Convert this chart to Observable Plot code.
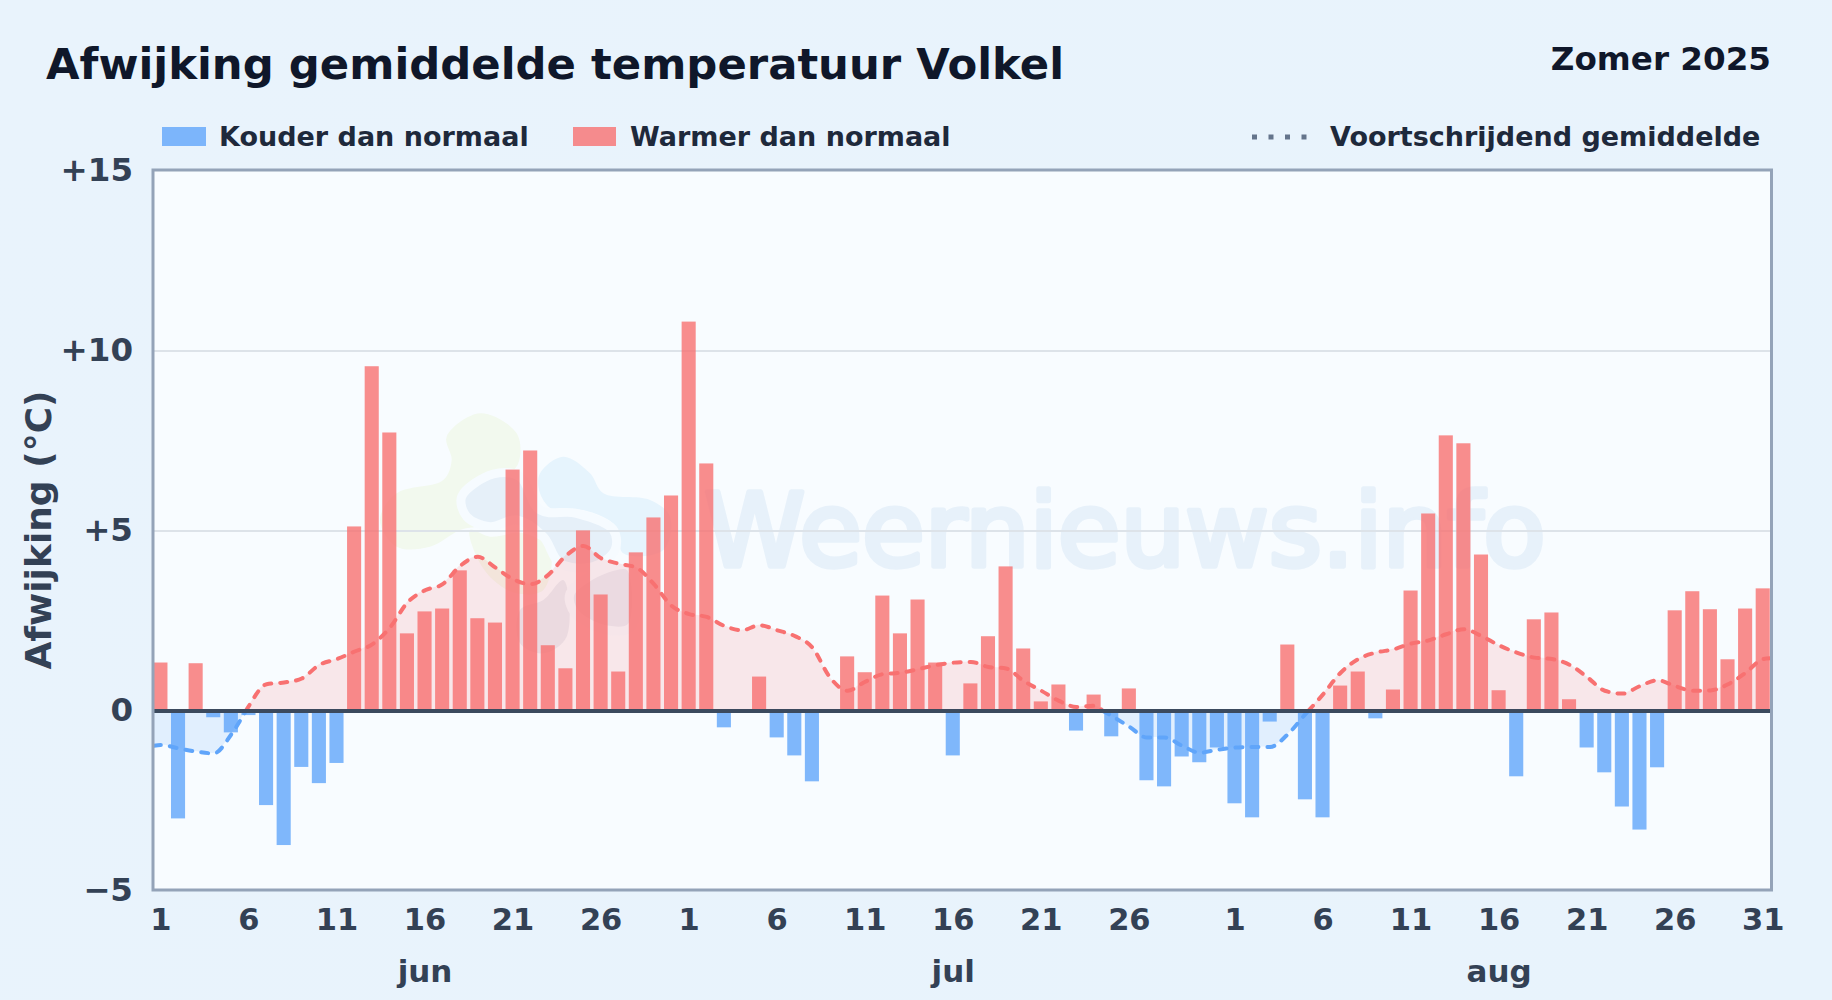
<!DOCTYPE html>
<html lang="nl">
<head>
<meta charset="utf-8">
<title>Afwijking gemiddelde temperatuur Volkel</title>
<script src="https://cdn.jsdelivr.net/npm/d3@7"></script>
<script src="https://cdn.jsdelivr.net/npm/@observablehq/plot@0.6"></script>
<style>
  html, body { margin: 0; padding: 0; }
  body {
    width: 1832px; height: 1000px; overflow: hidden; position: relative;
    background: linear-gradient(120deg, #e9f3fc 0%, #e8f3fc 100%);
    font-family: "DejaVu Sans", sans-serif; font-weight: 700;
  }
  .abs { position: absolute; white-space: nowrap; }
  #title { left: 46px; top: 38px; font-size: 43.35px; line-height: 52px; color: #0f172a; }
  #period { right: 61px; top: 39px; font-size: 32.6px; line-height: 40px; color: #0f172a; }
  .leg { font-size: 27px; line-height: 32px; top: 121px; color: #1e293b; }
  .swatch { top: 127px; height: 19px; }
  #chart { position: absolute; left: 0; top: 150px; }
  #chart svg { display: block; background: transparent; }
</style>
</head>
<body>
<div class="abs" id="title">Afwijking gemiddelde temperatuur Volkel</div>
<div class="abs" id="period">Zomer 2025</div>
<div class="abs swatch" style="left:162px;width:44px;background:rgba(96,165,250,.8)"></div>
<div class="abs leg" style="left:219px">Kouder dan normaal</div>
<div class="abs swatch" style="left:573px;width:43px;background:rgba(248,113,113,.8)"></div>
<div class="abs leg" style="left:630px">Warmer dan normaal</div>
<svg class="abs" style="left:1250px;top:130px" width="60" height="14"><line x1="2" x2="60" y1="7" y2="7" stroke="#64748b" stroke-width="5" stroke-dasharray="5 11.5"/></svg>
<div class="abs leg" style="left:1330px">Voortschrijdend gemiddelde</div>
<div id="chart"></div>
<script>
// Daily deviation from normal (°C), 1 Jun – 31 Aug 2025
const juneDeviation = [1.33,-3.0,1.31,-0.19,-0.61,-0.13,-2.63,-3.74,-1.57,-2.02,-1.46,5.11,9.56,7.72,2.14,2.75,2.83,3.89,2.56,2.44,6.69,7.22,1.81,1.17,5.0,3.22,1.08,4.39,5.36,5.97];
const julyDeviation = [10.8,6.86,-0.47,0,0.94,-0.75,-1.25,-1.97,0,1.5,1.06,3.19,2.14,3.08,1.33,-1.25,0.75,2.06,4.0,1.72,0.25,0.72,-0.56,0.44,-0.72,0.61,-1.94,-2.11,-1.28,-1.44,-1.03];
const augustDeviation = [-2.58,-2.97,-0.31,1.83,-2.47,-2.97,0.69,1.08,-0.22,0.58,3.33,5.47,7.64,7.42,4.33,0.56,-1.83,2.53,2.72,0.31,-1.03,-1.72,-2.67,-3.31,-1.58,2.78,3.31,2.81,1.42,2.83,3.39];
// Moving average, same days
const juneAverage = [-0.95,-1.04,-1.13,-1.18,-0.65,0.14,0.74,0.79,0.90,1.28,1.44,1.65,1.85,2.31,3.01,3.35,3.52,4.03,4.28,3.98,3.66,3.52,3.78,4.31,4.58,4.24,4.09,3.98,3.52,2.92];
const julyAverage = [2.69,2.61,2.36,2.24,2.38,2.24,2.08,1.76,0.93,0.56,0.81,1.02,1.06,1.16,1.27,1.34,1.36,1.22,1.18,0.83,0.56,0.28,0.11,0.14,-0.14,-0.44,-0.74,-0.74,-0.97,-1.16,-1.08];
const augustAverage = [-1.02,-1.0,-1.0,-0.65,-0.09,0.46,1.06,1.44,1.62,1.71,1.87,1.96,2.13,2.27,2.08,1.82,1.62,1.48,1.44,1.28,0.94,0.56,0.48,0.69,0.85,0.69,0.56,0.57,0.74,1.06,1.44];
const averageStart = -0.97, averageEnd = 1.46;
const yTicks = [-5, 0, 5, 10, 15];
const dayTickDays = [0,5,10,15,20,25,30,35,40,45,50,55,61,66,71,76,81,86,91];
const dayTickLabels = ["1","6","11","16","21","26","1","6","11","16","21","26","1","6","11","16","21","26","31"];
const monthNames = ["jun","jul","aug"];
const monthDays = [15,45,76];

const deviation = [...juneDeviation, ...julyDeviation, ...augustDeviation];
const average = [...juneAverage, ...julyAverage, ...augustAverage];
const bars = deviation.map((v, i) => ({i, v})).filter(d => d.v !== 0);

// Average line: split where it crosses zero, so each part has its own colour
const avgPts = [{x:-0.4,y:averageStart}, ...average.map((y,x) => ({x,y})), {x:91.4,y:averageEnd}];
const avgParts = [];
let part = 0;
avgPts.forEach((p, k) => {
  const q = avgPts[k-1];
  if (q && q.y * p.y < 0) {
    const cross = q.x + (p.x - q.x) * (0 - q.y) / (p.y - q.y);
    avgParts.push({x:cross, y:0, part, warm:q.y > 0});
    part++;
    avgParts.push({x:cross, y:0, part, warm:p.y > 0});
  }
  avgParts.push({x:p.x, y:p.y, part, warm:p.y > 0});
});
const warmParts = avgParts.filter(d => d.warm);
const coldParts = avgParts.filter(d => !d.warm);

// Faint site logo behind the bars
function logoMark() {
  const g = d3.create("svg:g");
  const smooth = d3.line().curve(d3.curveCatmullRomClosed.alpha(0.5));
  const toPx = pts => pts.map(([x,y]) => [150 + x/3, 350 + y/3 - 150]);
  const blobs = [
    {c:"#f2f9ee", h:false, p:[[890,260],[990,190],[1100,250],[1105,340],[1050,400],[1000,520],[930,540],[840,590],[740,590],[690,510],[740,430],[880,390],[905,330]]},
    {c:"#f2f9ee", h:false, p:[[960,540],[1020,560],[1120,550],[1200,600],[1180,720],[1100,730],[1030,690],[980,620]]},
    {c:"#e6f4fd", h:false, p:[[1170,370],[1240,320],[1320,370],[1360,430],[1500,450],[1560,500],[1540,600],[1420,610],[1400,530],[1300,480],[1210,480],[1170,430]]},
    {c:"#e6f0f9", h:true, p:[[935,440],[1030,372],[1110,380],[1170,480],[1280,490],[1390,540],[1395,600],[1330,650],[1230,640],[1180,560],[1100,510],[1020,530],[950,500]]},
    {c:"#e9edf4", h:false, p:[[1110,780],[1180,750],[1240,690],[1250,860],[1180,910],[1110,880]]},
    {c:"#e9edf5", h:true, p:[[1260,730],[1370,655],[1440,650],[1445,830],[1370,840],[1275,790]]}
  ];
  for (const b of blobs) {
    g.append("path").attr("d", smooth(toPx(b.p))).attr("fill", b.c)
      .attr("stroke", b.h ? "#f6fbff" : "none").attr("stroke-width", b.h ? 9 : 0);
  }
  return g.node();
}

const plot = Plot.plot({
  width: 1832, height: 850,
  marginLeft: 152.5, marginRight: 61, marginTop: 19.5, marginBottom: 110.5,
  style: {background: "transparent", fontFamily: "DejaVu Sans, sans-serif", overflow: "visible"},
  x: {type: "linear", domain: [-0.45, 91.47], axis: null},
  y: {domain: [-4.975, 15.025], axis: null},
  marks: [
    Plot.frame({fill: "#f8fcff", stroke: "none"}),
    Plot.text(["Weernieuws.info"], {
      x: [54.75], y: [5], text: d => d, fontSize: 102, fontWeight: 400,
      fill: "#e7f1fa", stroke: "#e7f1fa", strokeWidth: 5.5, textAnchor: "middle", lineAnchor: "middle", dy: 2
    }),
    logoMark,
    Plot.ruleY([5, 10], {stroke: "#dde3e9", strokeWidth: 2}),
    Plot.areaY(warmParts, {x: "x", y1: 0, y2: "y", z: "part", fill: "#f87171", fillOpacity: 0.15, curve: "monotone-x"}),
    Plot.areaY(coldParts, {x: "x", y1: 0, y2: "y", z: "part", fill: "#60a5fa", fillOpacity: 0.15, curve: "monotone-x"}),
    Plot.rectY(bars, {
      x1: d => d.i - 0.4, x2: d => d.i + 0.4, y1: 0, y2: "v",
      fill: d => d.v > 0 ? "#f87171" : "#60a5fa", fillOpacity: 0.8
    }),
    Plot.line(warmParts, {x: "x", y: "y", z: "part", stroke: "#f87171", strokeWidth: 4, strokeDasharray: "7 9", strokeLinecap: "round", curve: "monotone-x"}),
    Plot.line(coldParts, {x: "x", y: "y", z: "part", stroke: "#60a5fa", strokeWidth: 4, strokeDasharray: "7 9", strokeLinecap: "round", curve: "monotone-x"}),
    Plot.ruleY([0], {stroke: "#3b4a5e", strokeWidth: 4}),
    Plot.frame({stroke: "#94a3b8", strokeWidth: 3}),
    Plot.axisY({
      ticks: yTicks, tickSize: 0, tickPadding: 20, label: null,
      tickFormat: d => d > 0 ? "+" + d : d < 0 ? "\u2212" + Math.abs(d) : "0",
      fontSize: 32.5, fontWeight: 700, fill: "#334155"
    }),
    Plot.axisX({
      ticks: dayTickDays, tickSize: 0, tickPadding: 18, label: null,
      tickFormat: d => dayTickLabels[dayTickDays.indexOf(d)],
      fontSize: 30.5, fontWeight: 700, fill: "#334155"
    }),
    Plot.text(monthNames, {
      x: monthDays, text: d => d, frameAnchor: "bottom", dy: 92,
      fontSize: 31, fontWeight: 700, fill: "#334155"
    }),
    Plot.text(["Afwijking (°C)"], {
      text: d => d, frameAnchor: "left", dx: -114, rotate: -90,
      fontSize: 36, fontWeight: 700, fill: "#334155", textAnchor: "middle"
    })
  ]
});
document.getElementById("chart").append(plot);
</script>
</body>
</html>
